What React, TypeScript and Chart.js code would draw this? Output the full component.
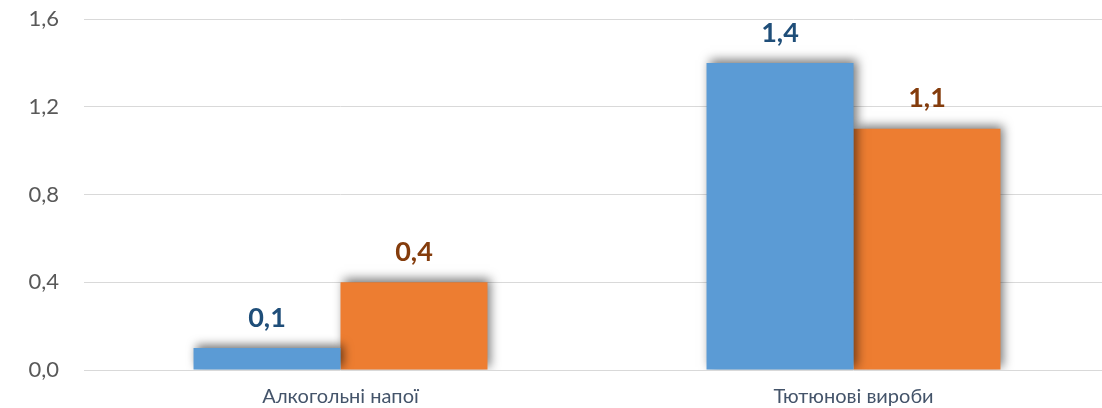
import React, { useEffect, useRef } from "react";
import { Chart, registerables } from "chart.js";

Chart.register(...registerables);

const categories = ["Алкогольні напої", "Тютюнові вироби"];
const seriesA = [0.1, 1.4];
const seriesB = [0.4, 1.1];
const yTicks = [0, 0.4, 0.8, 1.2, 1.6];

const fmt = (v: number) => v.toFixed(1).replace(".", ",");

const shadowPlugin = {
  id: "barShadow",
  beforeDatasetsDraw(chart: any) {
    const ctx = chart.ctx;
    ctx.save();
    ctx.shadowColor = "rgba(0,0,0,0.55)";
    ctx.shadowBlur = 10;
    ctx.shadowOffsetX = 3;
    ctx.shadowOffsetY = -3;
  },
  afterDatasetsDraw(chart: any) {
    chart.ctx.restore();
  },
};

const labelPlugin = {
  id: "barLabels",
  afterDraw(chart: any) {
    const ctx = chart.ctx;
    const colors = ["#1F4E79", "#843C0C"];
    ctx.save();
    ctx.font = "bold 27px Lato, 'Open Sans', sans-serif";
    ctx.textAlign = "center";
    ctx.textBaseline = "middle";
    chart.data.datasets.forEach((ds: any, i: number) => {
      const meta = chart.getDatasetMeta(i);
      meta.data.forEach((bar: any, j: number) => {
        ctx.fillStyle = colors[i];
        ctx.fillText(fmt(ds.data[j]), bar.x, bar.y - 30);
      });
    });
    ctx.restore();
  },
};

export default function App() {
  const ref = useRef<HTMLCanvasElement | null>(null);
  useEffect(() => {
    if (!ref.current) return;
    const chart = new Chart(ref.current, {
      type: "bar",
      data: {
        labels: categories,
        datasets: [
          { label: "A", data: seriesA, backgroundColor: "#5B9BD5", borderWidth: 0 },
          { label: "B", data: seriesB, backgroundColor: "#ED7D31", borderWidth: 0 },
        ],
      },
      options: {
        animation: false,
        responsive: false,
        maintainAspectRatio: false,
        layout: { padding: { top: 19, bottom: 2, left: 0, right: 2 } },
        plugins: { legend: { display: false }, tooltip: { enabled: false } },
        datasets: { bar: { categoryPercentage: 0.573, barPercentage: 1 } } as any,
        scales: {
          x: {
            grid: { display: false, drawTicks: false },
            border: { display: false },
            afterFit: (scale: any) => {
              scale.height = 36;
              scale.paddingLeft = 0;
              scale.paddingRight = 0;
            },
            ticks: {
              padding: 15,
              maxRotation: 0,
              color: "#44546A",
              font: { family: "Lato, 'Open Sans', sans-serif", size: 20 },
            },
          },
          y: {
            min: 0,
            max: 1.6,
            afterBuildTicks: (scale: any) => {
              scale.ticks = yTicks.map((v) => ({ value: v }));
            },
            afterFit: (scale: any) => {
              scale.width = 84;
              scale.paddingTop = 0;
              scale.paddingBottom = 0;
            },
            grid: { color: "#D9D9D9", lineWidth: 1, drawTicks: false },
            border: { display: false },
            ticks: {
              padding: 25,
              color: "#595959",
              font: { family: "Lato, 'Open Sans', sans-serif", size: 22 },
              callback: (v: any) => fmt(Number(v)),
            },
          },
        },
      },
      plugins: [shadowPlugin, labelPlugin],
    });
    return () => chart.destroy();
  }, []);
  return (
    <div style={{ position: "fixed", left: 0, top: 0, width: 1102, height: 408, overflow: "hidden", background: "#fff" }}>
      <canvas ref={ref} width={1112} height={408} style={{ display: "block", width: 1112, height: 408 }} />
    </div>
  );
}
